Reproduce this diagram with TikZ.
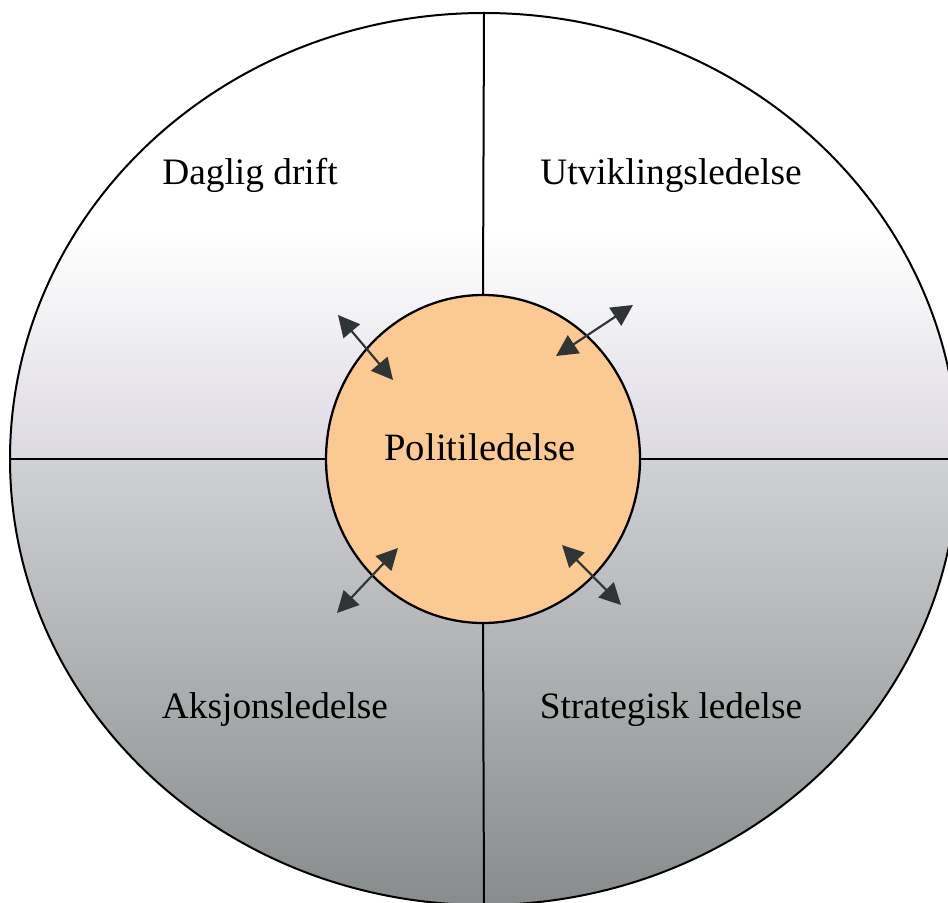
\documentclass[tikz,border=0pt]{standalone}
\usepackage{fontspec}
\setmainfont{Liberation Serif}
\usetikzlibrary{arrows.meta,shapes.geometric}
\definecolor{peach}{HTML}{FBC992}
\definecolor{lavgray}{HTML}{DCD9E1}
\definecolor{lowtop}{HTML}{D0D1D4}
\definecolor{lowbot}{HTML}{878B8B}
\definecolor{arrowgray}{HTML}{2F3434}

\begin{document}
\begin{tikzpicture}[x=0.75pt,y=-0.75pt,
  rim/.style={draw=black, line width=1.5pt},
  quadlabel/.style={font=\fontsize{28}{32}\selectfont, anchor=base, inner sep=0pt},
  corelabel/.style={font=\fontsize{29}{33}\selectfont, anchor=base, inner sep=0pt},
  link/.style={draw=arrowgray, line width=1.6pt,
    {Triangle[length=16pt,width=16pt,fill=arrowgray]}-{Triangle[length=16pt,width=16pt,fill=arrowgray]}}]
\useasboundingbox (0,0) rectangle (948,902);
\clip (0,0) rectangle (948,902);

% background shading of the outer disc: light upper half, darker lower half
\begin{scope}
  \clip (484,459) ellipse [x radius=474, y radius=446];
  \fill[white] (0,0) rectangle (948,230);
  \shade[top color=white, bottom color=lavgray] (0,230) rectangle (948,459);
  \shade[top color=lowtop, bottom color=lowbot] (0,459) rectangle (948,910);
\end{scope}

% outer rim
\node[ellipse, rim, minimum width=711pt, minimum height=669pt,
      inner sep=0pt, outer sep=0pt] (outer) at (484,459) {};

% central disc
\node[ellipse, rim, line width=1.7pt, fill=peach, minimum width=235.5pt, minimum height=246pt,
      inner sep=0pt, outer sep=0pt] (core) at (483,459) {};

% quadrant dividers
\draw[rim] (outer.north) -- (core.north);
\draw[rim] (core.south) -- (outer.south);
\draw[rim] (outer.west) -- (core.west);
\draw[rim] (core.east) -- (outer.east);

% labels
\node[corelabel] (corename) at (480,460) {Politiledelse};
\node[quadlabel] (daily) at (250,185) {Daglig drift};
\node[quadlabel] (develop) at (671,185) {Utviklingsledelse};
\node[quadlabel] (action) at (275,718) {Aksjonsledelse};
\node[quadlabel] (strategy) at (671,718) {Strategisk ledelse};

% two-way links across the rim of the central disc
\coordinate (ulout) at (338,315);
\coordinate (ulin)  at (393,380);
\coordinate (urout) at (633,305);
\coordinate (urin)  at (556,356);
\coordinate (llout) at (337,613);
\coordinate (llin)  at (398,548);
\coordinate (lrout) at (621,605);
\coordinate (lrin)  at (562,545);
\draw[link] (ulout) -- (ulin);
\draw[link] (urout) -- (urin);
\draw[link] (llout) -- (llin);
\draw[link] (lrout) -- (lrin);
\end{tikzpicture}
\end{document}
